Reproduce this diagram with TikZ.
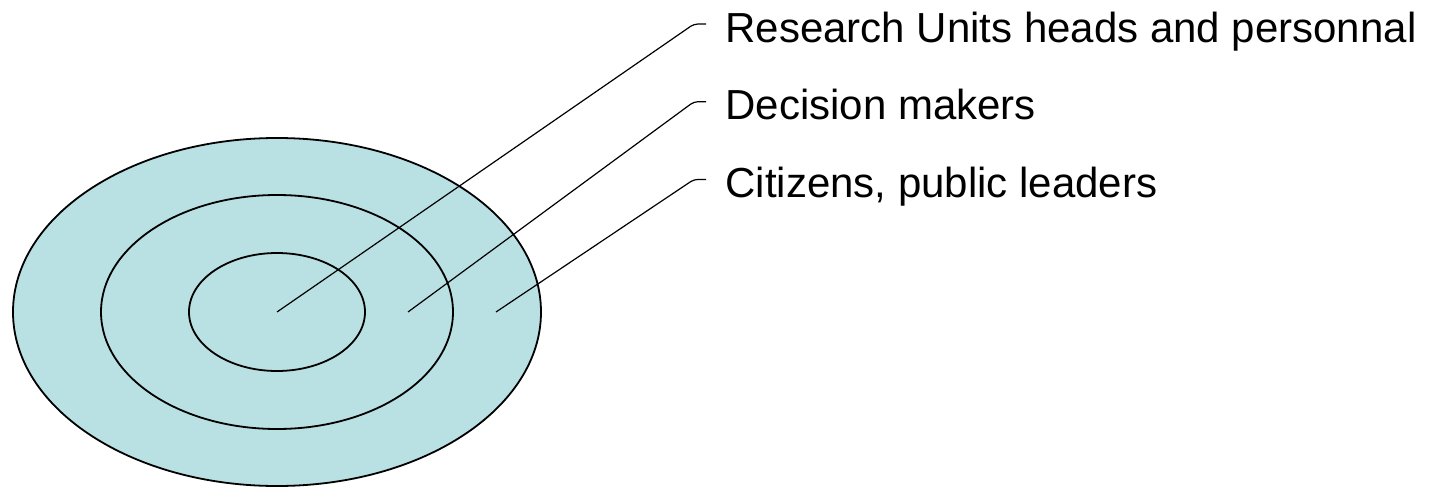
\documentclass[tikz,border=0pt]{standalone}
\usepackage{fontspec}
\setmainfont{Liberation Sans}
\definecolor{anillo}{RGB}{185,224,227}
\tikzset{
    guia/.style={line width=0.6pt, rounded corners=2pt},
    etiqueta/.style={anchor=base west, inner sep=0pt, font=\fontsize{21}{25}\selectfont}
}
\begin{document}
\begin{tikzpicture}[x=0.5pt,y=-0.5pt]
        % Marco
        \useasboundingbox (0,0) rectangle (1432,487);
        % Elipses concentricas
        \filldraw[fill=anillo, line width=0.9pt] (277,312) ellipse (264 and 174);
        \draw[line width=0.9pt] (277,312) ellipse (176 and 117);
        \draw[line width=0.9pt] (277,312) ellipse (88 and 59);
        % Puntos de cada anillo
        \coordinate (centro) at (277,312);
        \coordinate (medio) at (408,312);
        \coordinate (borde) at (496,312);
        % Etiquetas
        \node[etiqueta] (investigacion) at (725,42) {Research Units heads and personnal};
        \node[etiqueta] (decisores) at (725,119.7) {Decision makers};
        \node[etiqueta] (ciudadanos) at (725,197.4) {Citizens, public leaders};
        \coordinate (t1) at (706,24);
        \coordinate (t2) at (706,101.7);
        \coordinate (t3) at (706,179.4);
        % Lineas guia
        \draw[guia] (centro) -- (694,24) -- (t1);
        \draw[guia] (medio) -- (694,101.7) -- (t2);
        \draw[guia] (borde) -- (694,179.4) -- (t3);
    \end{tikzpicture}
\end{document}
